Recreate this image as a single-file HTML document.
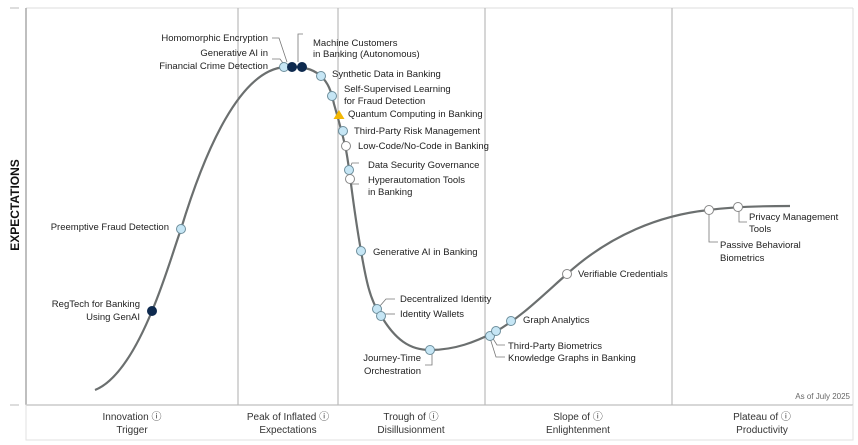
<!DOCTYPE html>
<html><head><meta charset="utf-8"><style>
html,body{margin:0;padding:0;background:#fff;}
svg{display:block;font-family:"Liberation Sans",sans-serif;}
text{font-size:9.5px;fill:#222;}
.b text{font-size:10px;fill:#333;}
</style></head><body>
<svg width="858" height="445" viewBox="0 0 858 445" xmlns="http://www.w3.org/2000/svg">
<line x1="26" y1="8" x2="853" y2="8" stroke="#ddd" stroke-width="1"/>
<line x1="853" y1="8" x2="853" y2="405" stroke="#ddd" stroke-width="1"/>
<line x1="26" y1="8" x2="26" y2="405" stroke="#aaa" stroke-width="1.5"/>
<line x1="26" y1="405" x2="853" y2="405" stroke="#999" stroke-width="1.5"/>
<line x1="10" y1="8" x2="19" y2="8" stroke="#bbb"/>
<line x1="10" y1="405" x2="19" y2="405" stroke="#bbb"/>
<rect x="26" y="405" width="827" height="35" fill="none" stroke="#e2e2e2"/>
<g stroke="#bbb" stroke-width="1.2">
<line x1="238" y1="8" x2="238" y2="405"/>
<line x1="338" y1="8" x2="338" y2="405"/>
<line x1="485" y1="8" x2="485" y2="405"/>
<line x1="672" y1="8" x2="672" y2="405"/>
</g>
<text x="19" y="205" transform="rotate(-90 19 205)" text-anchor="middle" style="font-size:12px;font-weight:bold;fill:#111">EXPECTATIONS</text>
<text x="850" y="399" text-anchor="end" style="font-size:8px;fill:#666">As of July 2025</text>
<path d="M95,390 C120,380 140,340 152,311 C165,280 172,255 181,229 C205,150 240,70 285,67 C300,66 312,68 321,76 C328,83 331,90 334,104 C340,125 344,140 346,150 C350,170 352,200 361,251 C366,280 370,300 380,314 C395,340 410,350 430,350 C455,350 475,342 495,332 C520,318 540,298 567,274 C610,235 660,215 709,210 C730,207 760,206 790,206" fill="none" stroke="#6b6f6f" stroke-width="2.2"/>
<g fill="none" stroke="#777" stroke-width="0.8">
<polyline points="272,38 279,38 287,62"/>
<polyline points="272,59 280,59 283,63"/>
<polyline points="303,34 298,34 298,62"/>
<polyline points="359,163 352,163 350,168"/>
<polyline points="359,184 352,184 350,179"/>
<polyline points="395,299 386,299 379,307"/>
<polyline points="395,314 382,314"/>
<polyline points="425,365 432,365 432,352"/>
<polyline points="505,345 497,345 492,337"/>
<polyline points="505,357 496,357 490,338"/>
<polyline points="718,242 709,242 709,214"/>
<polyline points="747,222 739,222 739,211"/>
</g>
<g stroke="#6d8e9c" stroke-width="1" fill="#c6e6f5">
<circle cx="181" cy="229" r="4.5"/>
<circle cx="284" cy="67" r="4.5"/>
<circle cx="321" cy="76" r="4.5"/>
<circle cx="332" cy="96" r="4.5"/>
<circle cx="343" cy="131" r="4.5"/>
<circle cx="349" cy="170" r="4.5"/>
<circle cx="361" cy="251" r="4.5"/>
<circle cx="377" cy="309" r="4.5"/>
<circle cx="381" cy="316" r="4.5"/>
<circle cx="430" cy="350" r="4.5"/>
<circle cx="490" cy="336" r="4.5"/>
<circle cx="496" cy="331" r="4.5"/>
<circle cx="511" cy="321" r="4.5"/>
</g>
<g stroke="#888" stroke-width="1" fill="#fff">
<circle cx="346" cy="146" r="4.5"/>
<circle cx="350" cy="179" r="4.5"/>
<circle cx="567" cy="274" r="4.5"/>
<circle cx="709" cy="210" r="4.5"/>
<circle cx="738" cy="207" r="4.5"/>
</g>
<g fill="#0e2a4f" stroke="#0e2a4f">
<circle cx="152" cy="311" r="4.5"/>
<circle cx="292" cy="67" r="4.5"/>
<circle cx="302" cy="67" r="4.5"/>
</g>
<polygon points="339,110 344.5,119 333.5,119" fill="#f2b705"/>
<text x="268" y="41" text-anchor="end">Homomorphic Encryption</text>
<text x="268" y="56" text-anchor="end">Generative AI in</text>
<text x="268" y="69" text-anchor="end">Financial Crime Detection</text>
<text x="313" y="46">Machine Customers</text>
<text x="313" y="57">in Banking (Autonomous)</text>
<text x="332" y="77">Synthetic Data in Banking</text>
<text x="344" y="92">Self-Supervised Learning</text>
<text x="344" y="104">for Fraud Detection</text>
<text x="348" y="117">Quantum Computing in Banking</text>
<text x="354" y="134">Third-Party Risk Management</text>
<text x="358" y="149">Low-Code/No-Code in Banking</text>
<text x="368" y="168">Data Security Governance</text>
<text x="368" y="183">Hyperautomation Tools</text>
<text x="368" y="195">in Banking</text>
<text x="169" y="230" text-anchor="end">Preemptive Fraud Detection</text>
<text x="140" y="307" text-anchor="end">RegTech for Banking</text>
<text x="140" y="320" text-anchor="end">Using GenAI</text>
<text x="373" y="255">Generative AI in Banking</text>
<text x="400" y="302">Decentralized Identity</text>
<text x="400" y="317">Identity Wallets</text>
<text x="421" y="361" text-anchor="end">Journey-Time</text>
<text x="421" y="374" text-anchor="end">Orchestration</text>
<text x="523" y="323">Graph Analytics</text>
<text x="508" y="349">Third-Party Biometrics</text>
<text x="508" y="361">Knowledge Graphs in Banking</text>
<text x="578" y="277">Verifiable Credentials</text>
<text x="749" y="220">Privacy Management</text>
<text x="749" y="232">Tools</text>
<text x="720" y="248">Passive Behavioral</text>
<text x="720" y="261">Biometrics</text>
<g class="b" text-anchor="middle">
<text x="132" y="420">Innovation ⓘ</text><text x="132" y="433">Trigger</text>
<text x="288" y="420">Peak of Inflated ⓘ</text><text x="288" y="433">Expectations</text>
<text x="411" y="420">Trough of ⓘ</text><text x="411" y="433">Disillusionment</text>
<text x="578" y="420">Slope of ⓘ</text><text x="578" y="433">Enlightenment</text>
<text x="762" y="420">Plateau of ⓘ</text><text x="762" y="433">Productivity</text>
</g>
</svg>
</body></html>
